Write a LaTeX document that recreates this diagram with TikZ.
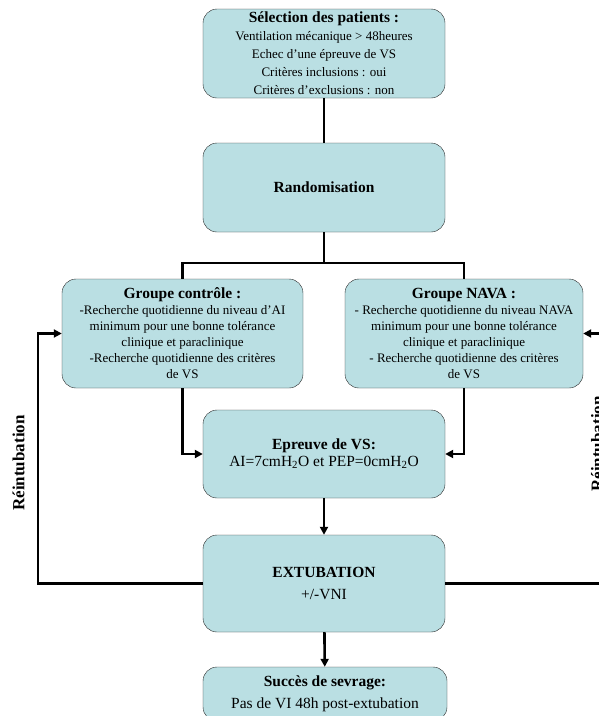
\documentclass[tikz,border=0pt]{standalone}
\usepackage{fontspec}
\setmainfont{Liberation Serif}
\usetikzlibrary{arrows.meta}
\definecolor{boxfill}{RGB}{186,223,227}
\definecolor{boxline}{RGB}{40,40,40}

\begin{document}
\begin{tikzpicture}[x=1pt,y=-1pt,
  box/.style={draw=boxline, fill=boxfill, rounded corners=14pt, align=center,
    inner sep=0pt, minimum width=242pt},
  small/.style={font=\fontsize{13}{18}\selectfont},
  grp/.style={font=\fontsize{13}{16}\selectfont},
  big/.style={font=\fontsize{15.5}{22}\selectfont},
  side/.style={rotate=90, font=\bfseries\fontsize{17}{20}\selectfont},
  link/.style={line width=2.6pt},
  >={Triangle[length=8pt,width=8pt]}]
\useasboundingbox (0,0) rectangle (599,716);
\clip (0,0) rectangle (599,716);

\node[box, small, minimum height=89pt] (sel) at (324,53.5) {\textbf{\fontsize{15.5}{18}\selectfont S\'election des patients :}\\Ventilation m\'ecanique > 48heures\\Echec d'une \'epreuve de VS\\Crit\`eres inclusions : oui\\Crit\`eres d'exclusions : non};
\node[box, big, minimum height=89pt] (rand) at (324,187.5) {\textbf{Randomisation}};
\node[box, grp, minimum width=241pt, minimum height=109pt] (ctrl) at (182.5,333.5) {\textbf{\fontsize{15.5}{18}\selectfont Groupe contr\^ole :}\\-Recherche quotidienne du niveau d'AI\\minimum pour une bonne tol\'erance\\clinique et paraclinique\\-Recherche quotidienne des crit\`eres\\de VS};
\node[box, grp, minimum width=238pt, minimum height=109pt] (nava) at (464,333.5) {\textbf{\fontsize{15.5}{18}\selectfont Groupe NAVA :}\\- Recherche quotidienne du niveau NAVA\\minimum pour une bonne tol\'erance\\clinique et paraclinique\\- Recherche quotidienne des crit\`eres\\de VS};
\node[box, big, minimum height=88pt, font=\fontsize{15.5}{17}\selectfont] (vs) at (324,454) {\textbf{Epreuve de VS:}\\AI=7cmH\textsubscript{2}O et PEP=0cmH\textsubscript{2}O};
\node[box, big, minimum height=97pt] (ext) at (324,583.5) {\textbf{EXTUBATION}\\+/-VNI};
\node[box, big, minimum width=244pt, minimum height=54pt] (succ) at (325,694) {\textbf{Succ\`es de sevrage:}\\Pas de VI 48h post-extubation};

\node[side] (reL) at (18.5,463) {R\'eintubation};
\node[side] (reR) at (597,444) {R\'eintubation};

\coordinate (fork) at (324,263);
\coordinate (backL) at (38,583.5);
\coordinate (backR) at (615,583.5);

\path[draw,link] (sel) -- (rand);
\path[draw,link] (rand) -- (fork);
\path[draw,link] (fork) -| (ctrl.north);
\path[draw,link] (fork) -| (nava.north);
\path[draw,link,->] (ctrl.south) |- (vs.west);
\path[draw,link,->] (nava.south) |- (vs.east);
\path[draw,link,->] (vs) -- (ext);
\path[draw,link,->] (ext) -- (succ);
\path[draw,link,->] (ext.west) -- (backL) |- (ctrl.west);
\path[draw,link,->] (ext.east) -- (backR) |- (nava.east);
\end{tikzpicture}
\end{document}
